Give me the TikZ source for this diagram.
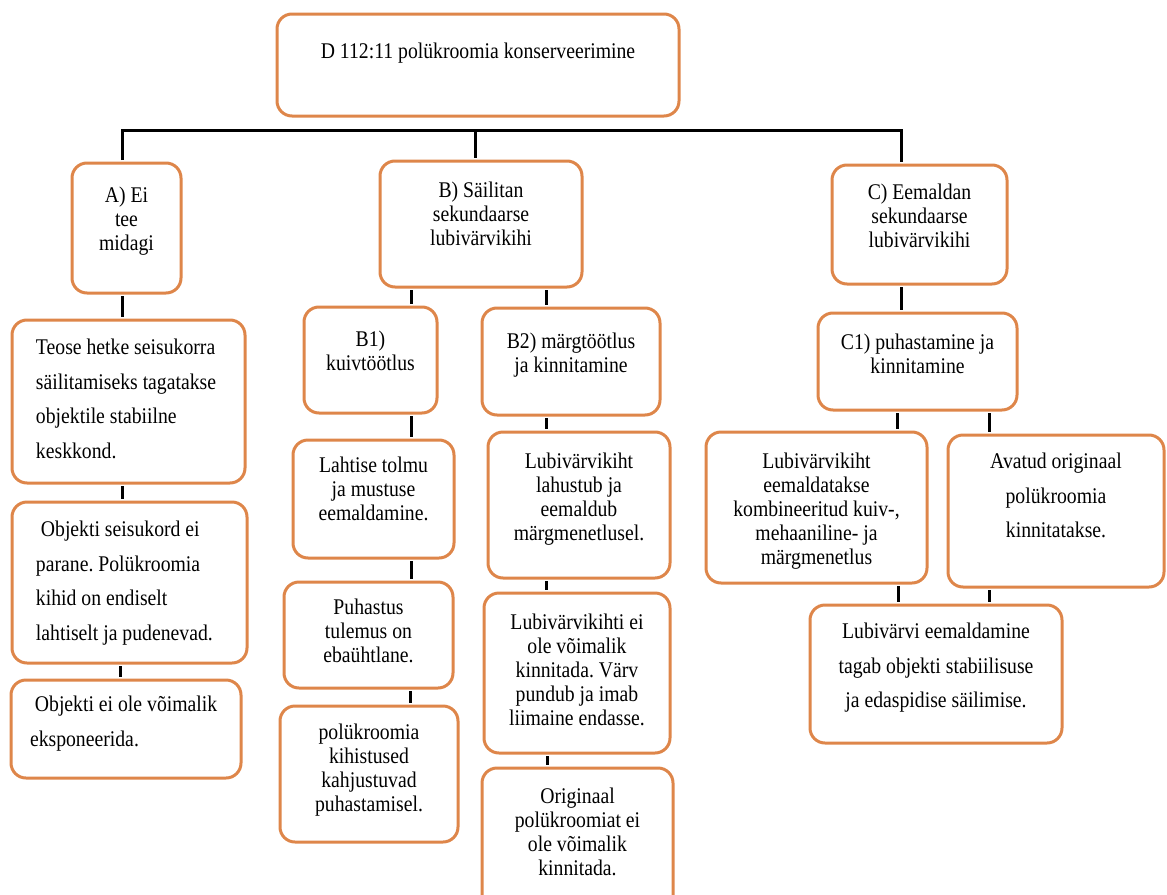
\documentclass[tikz,border=0pt]{standalone}
\usepackage{fontspec}
\setmainfont{Liberation Serif}[FakeStretch=0.88]
\usepackage{tikz}
\frenchspacing

\definecolor{cardorange}{RGB}{222,134,74}

% box text: width, height, top gap, lines
\newcommand{\cardtext}[4]{\parbox[c][#2][t]{#1}{\centering\vspace*{#3}#4\par}}

\begin{document}
\begin{tikzpicture}
[x=1pt,y=-1pt,
 card/.style={draw=cardorange,line width=3pt,rounded corners=15pt,fill=white,inner sep=0pt},
 tight/.style={font=\fontsize{22.4}{24}\selectfont},
 loose/.style={font=\fontsize{22.4}{34.5}\selectfont},
 link/.style={draw=black,line width=3pt,shorten <=1.5pt,shorten >=1.5pt}]

  \useasboundingbox (0,0) rectangle (1167,894);

  \node[card,tight] (root) at (478,65) {\cardtext{402pt}{102pt}{29pt}{D 112:11 polükroomia konserveerimine}};

  \node[card,tight] (A) at (126.5,228) {\cardtext{109pt}{130pt}{24pt}{A) Ei\\tee\\midagi}};
  \node[card,tight] (B) at (481,224) {\cardtext{202pt}{126pt}{21pt}{B) Säilitan\\sekundaarse\\lubivärvikihi}};
  \node[card,tight] (C) at (919.5,224.5) {\cardtext{175pt}{119pt}{19pt}{C) Eemaldan\\sekundaarse\\lubivärvikihi}};

  \node[card,loose] (A1) at (128.5,401.5) {\cardtext{233pt}{163pt}{19pt}{\raggedright\leftskip=24pt Teose hetke seisukorra\\säilitamiseks tagatakse\\objektile stabiilne\\keskkond.}};
  \node[card,loose] (A2) at (129.5,582.5) {\cardtext{235pt}{161pt}{19pt}{\raggedright\leftskip=24pt\ Objekti seisukord ei\\parane. Polükroomia\\kihid on endiselt\\lahtiselt ja pudenevad.}};
  \node[card,loose] (A3) at (126,729) {\cardtext{230pt}{98pt}{16pt}{\raggedright\leftskip=19pt\ Objekti ei ole võimalik\\eksponeerida.}};

  \node[card,tight] (B1) at (370.5,360) {\cardtext{133pt}{106pt}{24pt}{B1)\\kuivtöötlus}};
  \node[card,tight] (B1a) at (373.5,499) {\cardtext{161pt}{118pt}{17pt}{Lahtise tolmu\\ja mustuse\\eemaldamine.}};
  \node[card,tight] (B1b) at (368.5,635) {\cardtext{169pt}{106pt}{17pt}{Puhastus\\tulemus on\\ebaühtlane.}};
  \node[card,tight] (B1c) at (369,774) {\cardtext{178pt}{136pt}{18pt}{polükroomia\\kihistused\\kahjustuvad\\puhastamisel.}};

  \node[card,tight] (B2) at (571,361.5) {\cardtext{178pt}{107pt}{25pt}{B2) märgtöötlus\\ja kinnitamine}};
  \node[card,tight] (B2a) at (579,505) {\cardtext{182pt}{146pt}{21pt}{Lubivärvikiht\\lahustub ja\\eemaldub\\märgmenetlusel.}};
  \node[card,tight] (B2b) at (577,673) {\cardtext{186pt}{160pt}{21pt}{Lubivärvikihti ei\\ole võimalik\\kinnitada. Värv\\pundub ja imab\\liimaine endasse.}};
  \node[card,tight] (B2c) at (577.5,839) {\cardtext{191pt}{142pt}{20pt}{Originaal\\polükroomiat ei\\ole võimalik\\kinnitada.}};

  \node[card,tight] (C1) at (917.5,361.5) {\cardtext{199pt}{97pt}{21pt}{C1) puhastamine ja\\kinnitamine}};
  \node[card,tight] (C1a) at (816.5,507.5) {\cardtext{221pt}{151pt}{21pt}{Lubivärvikiht\\eemaldatakse\\kombineeritud kuiv-,\\mehaaniline- ja\\märgmenetlus}};
  \node[card,loose] (C1b) at (1056,511) {\cardtext{216pt}{152pt}{18pt}{Avatud originaal\\polükroomia\\kinnitatakse.}};
  \node[card,loose] (C2) at (936,674) {\cardtext{252pt}{138pt}{18pt}{Lubivärvi eemaldamine\\tagab objekti stabiilisuse\\ja edaspidise säilimise.}};

  % top bar
  \coordinate (barL) at (122,130);
  \coordinate (barB) at (475,130);
  \coordinate (barR) at (901,130);
  \draw[link] (A.north -| barL) -- (barL) -- (barR) -- (C.north -| barR);
  \draw[link] (barB) -- (B.north -| barB);

  \foreach \from/\to/\x in {A/A1/122, A1/A2/122, A2/A3/120,
                            B/B1/411, B1/B1a/411, B1a/B1b/411, B1b/B1c/410,
                            B/B2/546, B2/B2a/546, B2a/B2b/546, B2b/B2c/547,
                            C/C1/901, C1/C1a/897, C1/C1b/989, C1a/C2/898, C1b/C2/989}
    \draw[link] (\from.south -| \x,0) -- (\to.north -| \x,0);

\end{tikzpicture}
\end{document}
